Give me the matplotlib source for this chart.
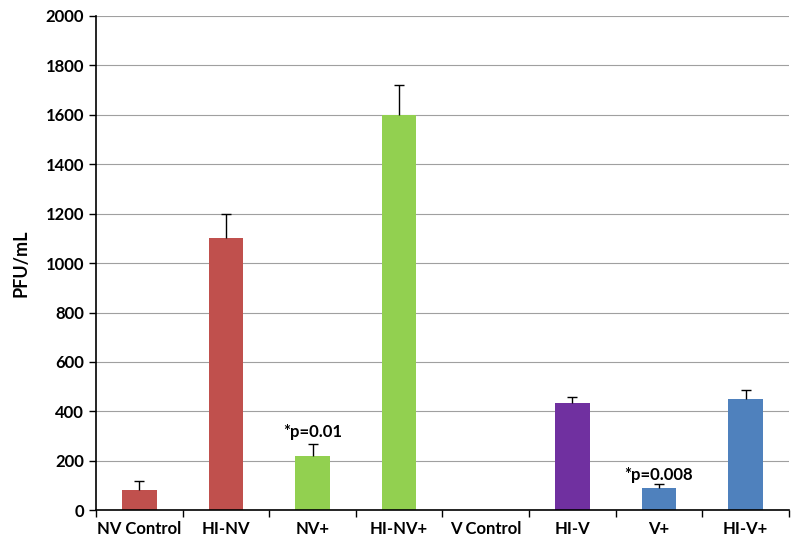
import numpy as np
import matplotlib.pyplot as plt

plt.rcParams['font.family'] = ['Lato', 'DejaVu Sans']

# data
groups = ['NV Control', 'HI-NV', 'NV+', 'HI-NV+', 'V Control', 'HI-V', 'V+', 'HI-V+']
pfu = [80, 1100, 220, 1600, 0, 435, 90, 450]
err = [40, 100, 50, 120, 0, 25, 15, 35]
colors = ['#C0504D', '#C0504D', '#92D050', '#92D050', '#7030A0', '#7030A0', '#4F81BD', '#4F81BD']
notes = {2: '*p=0.01', 6: '*p=0.008'}
note_y = {2: 285, 6: 110}

fig = plt.figure(figsize=(8, 5.51), dpi=100)
ax = fig.add_axes([0.12, 0.074, 0.866, 0.897])

x = np.arange(len(groups))
pfu = np.array(pfu)
err = np.array(err)
ax.bar(x, pfu, width=0.4, color=colors, zorder=2)
# upper half error bars only, cap on top
has = err > 0
ax.vlines(x[has], pfu[has], pfu[has] + err[has], color='black', linewidth=1, zorder=3)
ax.plot(x[has], pfu[has] + err[has], linestyle='none', marker='_', markersize=7,
        markeredgewidth=1, color='black', zorder=3)

for i, s in notes.items():
    ax.text(x[i], note_y[i], s, ha='center', va='bottom', fontsize=12, fontweight='bold')

ax.set_xlim(-0.5, len(groups) - 0.5)
ax.set_ylim(0, 2000)
ax.set_yticks(range(0, 2001, 200))
ax.yaxis.grid(True, color='#a0a0a0', linewidth=0.8, zorder=0)
ax.set_axisbelow(True)

ax.set_xticks(x)
ax.set_xticklabels(groups, fontsize=12, fontweight='bold')
ax.tick_params(axis='x', length=0, pad=8)
ax.set_xticks(np.arange(-0.5, len(groups)), minor=True)
ax.tick_params(axis='x', which='minor', length=5, direction='out', width=1)
ax.tick_params(axis='y', length=5, direction='out', width=1, labelsize=12)
for lbl in ax.get_yticklabels():
    lbl.set_fontweight('bold')

ax.set_ylabel('PFU/mL', fontsize=13, fontweight='bold', labelpad=12)

for side in ['top', 'right']:
    ax.spines[side].set_visible(False)
ax.spines['left'].set_linewidth(1.2)
ax.spines['bottom'].set_linewidth(1.2)

fig.savefig('out.png', dpi=100)
